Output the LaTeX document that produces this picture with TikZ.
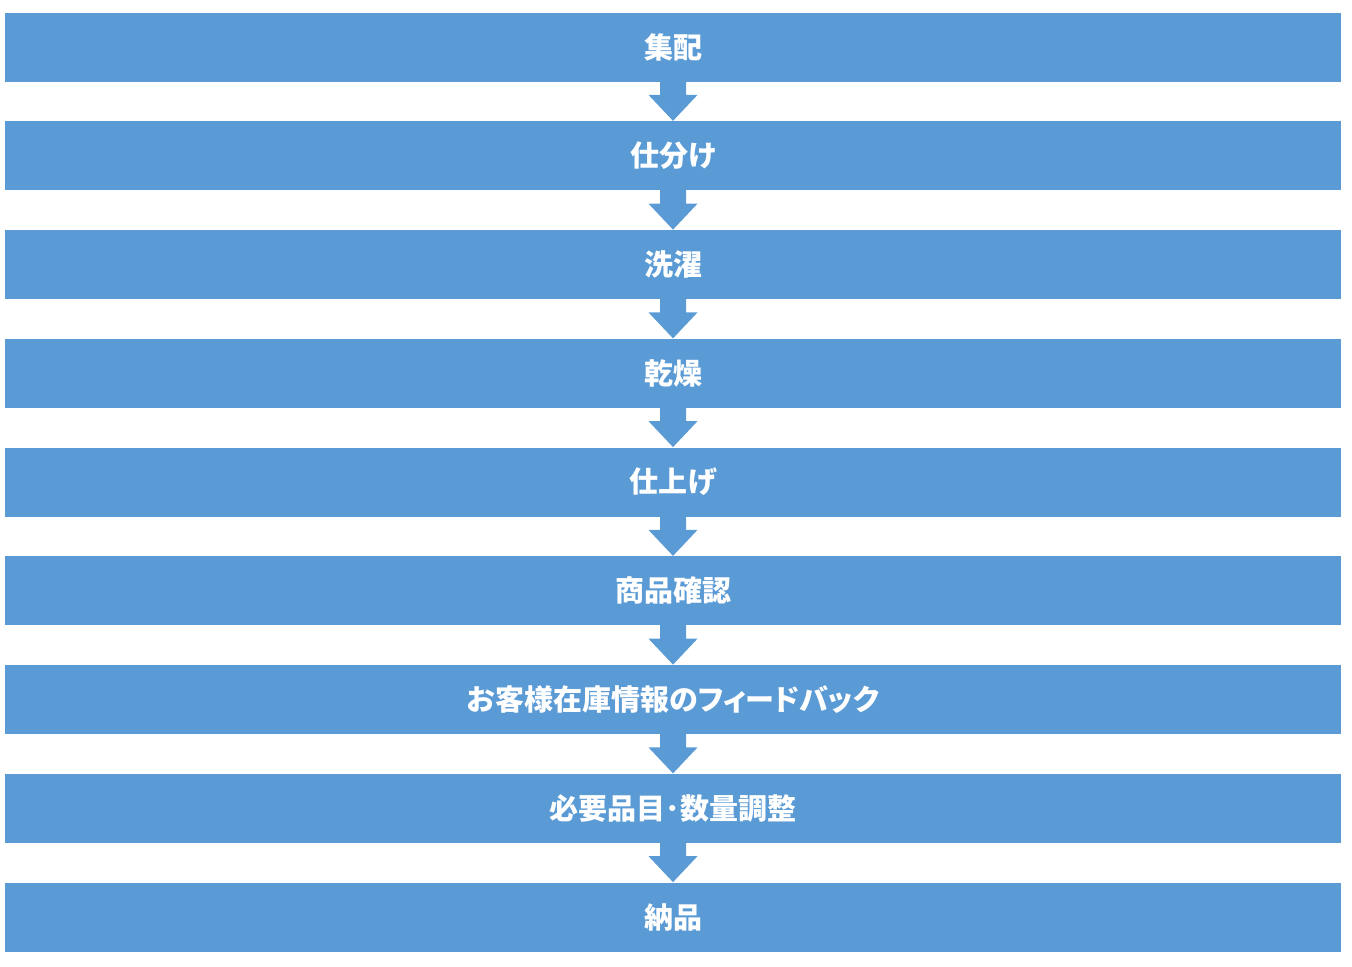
\documentclass[tikz,border=0pt]{standalone}
\usepackage{fontspec}
\newfontfamily\jpfont[RawFeature=+palt]{Noto Sans CJK JP}
\usetikzlibrary{calc}
\definecolor{stepblue}{HTML}{5B9BD5}

\begin{document}
\begin{tikzpicture}[x=0.5pt,y=-0.5pt,
    stepbox/.style={fill=stepblue, minimum width=668pt, minimum height=34.5pt,
      inner sep=0pt, text=white, font=\jpfont\bfseries\fontsize{14.5pt}{16pt}\selectfont}]
  \useasboundingbox (0,0) rectangle (1352,966);
  % steps
  \foreach \t [count=\i from 0] in {集配,仕分け,洗濯,乾燥,仕上げ,商品確認,
      お客様在庫情報のフィードバック,必要品目･数量調整,納品}
    \node[stepbox] (b\i) at (673,47+\i*108.75) {\t};
  % block arrows
  \foreach \i in {0,...,7}{
    \pgfmathtruncatemacro\j{\i+1}
    \fill[stepblue] ($(b\i.south)+(-13,-2)$) -- ($(b\i.south)+(-13,13)$)
      -- ($(b\i.south)+(-24.5,13)$) -- (b\j.north) -- ($(b\i.south)+(24.5,13)$)
      -- ($(b\i.south)+(13,13)$) -- ($(b\i.south)+(13,-2)$) -- cycle;
  }
\end{tikzpicture}
\end{document}
